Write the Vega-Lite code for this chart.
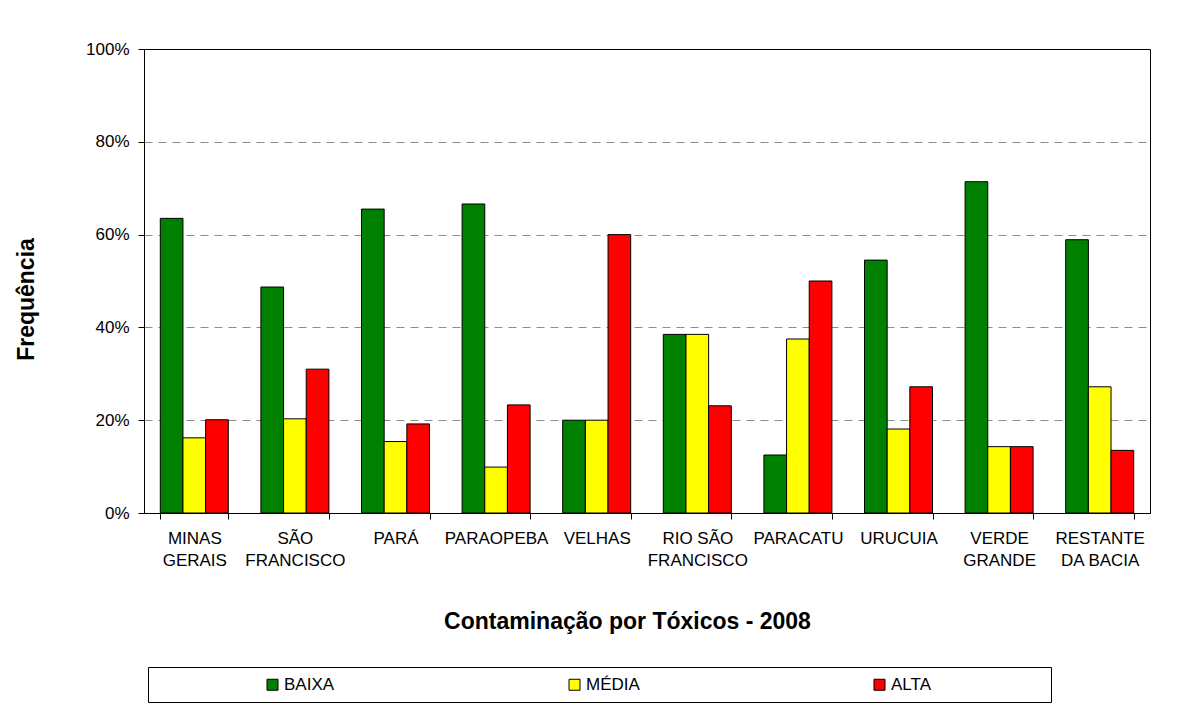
{
  "$schema": "https://vega.github.io/schema/vega-lite/v6.json",
  "width": 1006,
  "height": 464,
  "autosize": {"type": "none"},
  "padding": {"left": 144, "top": 49, "right": 40, "bottom": 211},
  "background": "white",
  "config": {
    "font": "Liberation Sans",
    "view": {"stroke": "black", "strokeWidth": 1}
  },
  "data": {
    "values": [
      {"regiao": "MINAS GERAIS", "nivel": "BAIXA", "freq": 0.635},
      {"regiao": "MINAS GERAIS", "nivel": "MÉDIA", "freq": 0.162},
      {"regiao": "MINAS GERAIS", "nivel": "ALTA", "freq": 0.201},
      {"regiao": "SÃO FRANCISCO", "nivel": "BAIXA", "freq": 0.487},
      {"regiao": "SÃO FRANCISCO", "nivel": "MÉDIA", "freq": 0.203},
      {"regiao": "SÃO FRANCISCO", "nivel": "ALTA", "freq": 0.31},
      {"regiao": "PARÁ", "nivel": "BAIXA", "freq": 0.655},
      {"regiao": "PARÁ", "nivel": "MÉDIA", "freq": 0.154},
      {"regiao": "PARÁ", "nivel": "ALTA", "freq": 0.192},
      {"regiao": "PARAOPEBA", "nivel": "BAIXA", "freq": 0.666},
      {"regiao": "PARAOPEBA", "nivel": "MÉDIA", "freq": 0.099},
      {"regiao": "PARAOPEBA", "nivel": "ALTA", "freq": 0.233},
      {"regiao": "VELHAS", "nivel": "BAIXA", "freq": 0.2},
      {"regiao": "VELHAS", "nivel": "MÉDIA", "freq": 0.2},
      {"regiao": "VELHAS", "nivel": "ALTA", "freq": 0.6},
      {"regiao": "RIO SÃO FRANCISCO", "nivel": "BAIXA", "freq": 0.385},
      {"regiao": "RIO SÃO FRANCISCO", "nivel": "MÉDIA", "freq": 0.385},
      {"regiao": "RIO SÃO FRANCISCO", "nivel": "ALTA", "freq": 0.231},
      {"regiao": "PARACATU", "nivel": "BAIXA", "freq": 0.125},
      {"regiao": "PARACATU", "nivel": "MÉDIA", "freq": 0.375},
      {"regiao": "PARACATU", "nivel": "ALTA", "freq": 0.5},
      {"regiao": "URUCUIA", "nivel": "BAIXA", "freq": 0.545},
      {"regiao": "URUCUIA", "nivel": "MÉDIA", "freq": 0.181},
      {"regiao": "URUCUIA", "nivel": "ALTA", "freq": 0.272},
      {"regiao": "VERDE GRANDE", "nivel": "BAIXA", "freq": 0.714},
      {"regiao": "VERDE GRANDE", "nivel": "MÉDIA", "freq": 0.143},
      {"regiao": "VERDE GRANDE", "nivel": "ALTA", "freq": 0.143},
      {"regiao": "RESTANTE DA BACIA", "nivel": "BAIXA", "freq": 0.589},
      {"regiao": "RESTANTE DA BACIA", "nivel": "MÉDIA", "freq": 0.272},
      {"regiao": "RESTANTE DA BACIA", "nivel": "ALTA", "freq": 0.135}
    ]
  },
  "mark": {"type": "bar", "stroke": "black", "strokeWidth": 1},
  "encoding": {
    "x": {
      "field": "regiao",
      "type": "nominal",
      "sort": null,
      "scale": {"paddingInner": 0.324, "paddingOuter": 0.162},
      "axis": {
        "title": "Contaminação por Tóxicos - 2008",
        "titleFontSize": 23,
        "titleFontWeight": "bold",
        "titleColor": "black",
        "titleX": 483,
        "titleY": 115,
        "titleBaseline": "alphabetic",
        "titleAlign": "center",
        "labelAngle": 0,
        "labelFontSize": 17,
        "labelColor": "black",
        "labelLineHeight": 22.6,
        "labelPadding": 11,
        "labelOverlap": false,
        "labelBound": false,
        "labelLimit": 0,
        "labelExpr": "datum.label == 'MINAS GERAIS' ? ['MINAS', 'GERAIS'] : datum.label == 'SÃO FRANCISCO' ? ['SÃO', 'FRANCISCO'] : datum.label == 'RIO SÃO FRANCISCO' ? ['RIO SÃO', 'FRANCISCO'] : datum.label == 'VERDE GRANDE' ? ['VERDE', 'GRANDE'] : datum.label == 'RESTANTE DA BACIA' ? ['RESTANTE', 'DA BACIA'] : datum.label",
        "tickBand": "extent",
        "tickSize": 6,
        "tickColor": "black",
        "domainColor": "black",
        "grid": false
      }
    },
    "xOffset": {
      "field": "nivel",
      "type": "nominal",
      "sort": ["BAIXA", "MÉDIA", "ALTA"],
      "scale": {"paddingInner": 0, "paddingOuter": 0}
    },
    "y": {
      "field": "freq",
      "type": "quantitative",
      "scale": {"domain": [0, 1], "nice": false},
      "axis": {
        "title": "Frequência",
        "titleFontSize": 23,
        "titleFontWeight": "bold",
        "titleColor": "black",
        "titleX": -111,
        "titleY": 250,
        "titleBaseline": "alphabetic",
        "titleAlign": "center",
        "titleAngle": -90,
        "values": [0, 0.2, 0.4, 0.6, 0.8, 1],
        "format": ".0%",
        "labelFontSize": 17,
        "labelColor": "black",
        "labelPadding": 9,
        "tickSize": 6,
        "tickColor": "black",
        "domainColor": "black",
        "grid": true,
        "gridDash": [8, 6],
        "gridWidth": 1,
        "gridColor": {"condition": {"test": "datum.value == 0 || datum.value == 1", "value": "transparent"}, "value": "#8c8c8c"}
      }
    },
    "color": {
      "field": "nivel",
      "type": "nominal",
      "sort": ["BAIXA", "MÉDIA", "ALTA"],
      "scale": {"domain": ["BAIXA", "MÉDIA", "ALTA"], "range": ["#008000", "#FFFF00", "#FF0000"]},
      "legend": {
        "orient": "none",
        "legendX": 4,
        "legendY": 618,
        "direction": "horizontal",
        "columns": 3,
        "columnPadding": 231,
        "padding": 9,
        "strokeColor": "black",
        "fillColor": "white",
        "symbolType": "square",
        "symbolSize": 121,
        "symbolStrokeColor": "black",
        "symbolStrokeWidth": 1,
        "symbolOpacity": 1,
        "labelFontSize": 17,
        "labelOffset": 3,
        "labelColor": "black",
        "labelLimit": 0,
        "labelExpr": "datum.label == 'ALTA' ? 'ALTA' + '\u00a0\u00a0\u00a0\u2800\u2800\u2800\u2800\u2800\u2800\u2800\u2800' : datum.label",
        "title": "\u00a0",
        "titleOrient": "left",
        "titleFontSize": 1,
        "titlePadding": 107
      }
    }
  }
}
